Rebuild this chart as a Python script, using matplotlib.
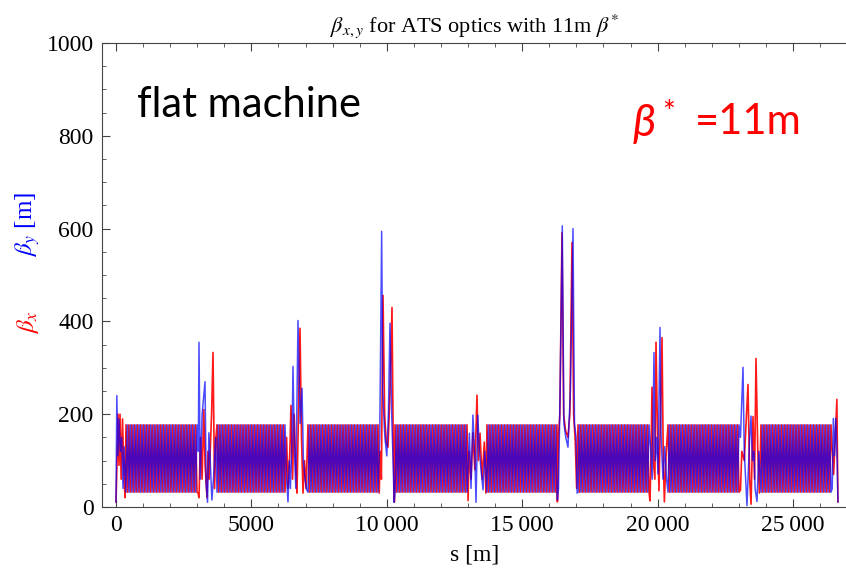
import numpy as np
import matplotlib.pyplot as plt

plt.rcParams['mathtext.fontset'] = 'stix'

# regular arc cells: start / end of each arc [m], beta range [m]
arc_start = [369, 3730, 7090, 10303, 13700, 17061, 20384, 23818]
arc_end = [2991, 6240, 9675, 12962, 16285, 19683, 23006, 26403]
beta_max = 177
beta_min = 32
cell_len = 106.9

# insertion regions: (s, beta) knots
ir_x = [
    [(0, 11), (40, 100), (74, 200), (110, 90), (148, 200), (190, 60), (240, 190), (290, 80), (330, 20)],
    [(3030, 30), (3065, 20), (3120, 150), (3180, 60), (3240, 210), (3290, 90), (3360, 20), (3397, 120),
     (3440, 60), (3530, 200), (3582, 333), (3640, 40), (3690, 150)],
    [(6300, 150), (6350, 40), (6420, 120), (6462, 219), (6520, 60), (6580, 200), (6640, 80), (6684, 30),
     (6795, 385), (6850, 150), (6906, 30), (6960, 100), (7020, 40)],
    [(9720, 30), (9760, 120), (9800, 60), (9860, 456), (9920, 200), (9980, 140), (10044, 129),
     (10120, 250), (10192, 430), (10240, 120), (10280, 11)],
    [(13000, 14), (13040, 120), (13110, 60), (13180, 160), (13250, 80), (13331, 241), (13380, 100),
     (13442, 159), (13520, 60), (13600, 140), (13660, 30)],
    [(16300, 11), (16340, 150), (16390, 200), (16470, 591), (16530, 200), (16600, 165), (16690, 150),
     (16760, 200), (16839, 570), (16900, 200), (16960, 140), (17010, 40)],
    [(19720, 13), (19760, 120), (19793, 258), (19840, 100), (19900, 60), (19941, 355), (20000, 150),
     (20050, 35), (20163, 365), (20210, 100), (20250, 11), (20320, 120)],
    [(23060, 36), (23110, 120), (23200, 100), (23338, 264), (23400, 60), (23450, 6), (23523, 195),
     (23580, 60), (23634, 320), (23700, 120), (23760, 30)],
    [(26450, 120), (26500, 70), (26560, 150), (26620, 232), (26659, 11)],
]
ir_y = [
    [(0, 11), (30, 240), (70, 110), (110, 190), (160, 120), (210, 150), (260, 40), (300, 130)],
    [(3040, 120), (3065, 355), (3110, 60), (3180, 200), (3287, 270), (3330, 50), (3380, 10), (3430, 160),
     (3480, 100), (3540, 15), (3600, 60), (3680, 150)],
    [(6300, 60), (6351, 11), (6400, 100), (6440, 40), (6500, 150), (6536, 303), (6590, 120), (6640, 40),
     (6721, 402), (6800, 180), (6869, 256), (6920, 100), (6980, 60), (7040, 37)],
    [(9740, 150), (9810, 594), (9850, 250), (9880, 208), (9930, 150), (10000, 110), (10060, 200),
     (10118, 396), (10180, 200), (10229, 107), (10270, 10)],
    [(13050, 159), (13110, 40), (13180, 198), (13257, 100), (13294, 10), (13360, 198), (13420, 120),
     (13480, 80), (13552, 37), (13620, 120)],
    [(16300, 15), (16340, 40), (16400, 250), (16480, 606), (16540, 180), (16610, 150), (16690, 129),
     (16780, 250), (16876, 600), (16930, 180), (16990, 150), (17030, 30)],
    [(19740, 129), (19800, 60), (19867, 333), (19910, 100), (19960, 150), (20015, 71), (20089, 387),
     (20130, 150), (20200, 60), (20260, 130), (20330, 60)],
    [(23060, 150), (23154, 301), (23200, 120), (23300, 3), (23400, 150), (23449, 196), (23500, 100),
     (23560, 120), (23600, 40), (23670, 12), (23740, 120)],
    [(26450, 40), (26490, 191), (26530, 110), (26580, 191), (26630, 100), (26659, 11)],
]

x_ticks = [0, 5000, 10000, 15000, 20000, 25000]
x_labels = ['0', '5000', '10\u2009000', '15\u2009000', '20\u2009000', '25\u2009000']
y_ticks = [0, 200, 400, 600, 800, 1000]


def arc(start, end, x_plane):
    n = int(round((end - start) / (cell_len / 2)))
    s = np.linspace(start, end, n + 1)
    hi = np.arange(n + 1) % 2 == 0
    if not x_plane:
        hi = ~hi
    return list(zip(s, np.where(hi, beta_max, beta_min)))


def build(ir, x_plane):
    pts = []
    for i in range(len(ir)):
        pts += ir[i]
        if i < len(arc_start):
            pts += arc(arc_start[i], arc_end[i], x_plane)
    pts = np.array(pts)
    return pts[:, 0], pts[:, 1]


sx, bx = build(ir_x, True)
sy, by = build(ir_y, False)

fig = plt.figure(figsize=(8.46, 5.72), dpi=100)
ax = fig.add_axes([102 / 846, 65 / 572, 746 / 846, 464 / 572])
ax.plot(sx, bx, color='#ff0000', lw=1.2, alpha=0.9)
ax.plot(sy, by, color='#0000ff', lw=1.1, alpha=0.7)

ax.set_xlim(-517, 27031)
ax.set_ylim(0, 1000)
ax.set_xticks(x_ticks)
ax.set_xticklabels(x_labels)
ax.set_yticks(y_ticks)
ax.set_xticks(np.arange(0, 27001, 1000), minor=True)
ax.set_yticks(np.arange(0, 1001, 50), minor=True)
ax.tick_params(which='both', direction='in', top=True, right=False, color='#444444')
ax.tick_params(which='major', length=6, labelsize=17, pad=6)
ax.tick_params(which='minor', length=3)
for lab in ax.get_xticklabels() + ax.get_yticklabels():
    lab.set_family('Liberation Serif')
for sp in ax.spines.values():
    sp.set_color('#444444')
ax.spines['right'].set_visible(False)

ax.set_xlabel('s [m]', family='Liberation Serif', fontsize=17, labelpad=6)
ax.set_title(r'$\beta_{x,y}$ for ATS optics with 11m $\beta^{*}$', family='Liberation Serif',
             fontsize=16, pad=8)

fig.text(0.033, 0.437, r'$\beta_x$', color='#ff0000', rotation=90, fontsize=18,
         ha='center', va='center')
fig.text(0.033, 0.607, r'$\beta_y$ [m]', color='#0000ff', rotation=90, fontsize=18,
         family='Liberation Serif', ha='center', va='center')

fig.text(0.294, 0.816, 'flat machine', family='Lato', fontsize=30, ha='center', va='center')
fig.text(0.762, 0.784, '\u03b2', family=['Lato', 'DejaVu Sans'], style='italic', fontsize=32,
         color='#ff0000', ha='center', va='center')
fig.text(0.790, 0.802, '*', family='Lato', fontsize=22, color='#ff0000', ha='center', va='center')
fig.text(0.885, 0.787, '=11m', family='Lato', fontsize=30, color='#ff0000', ha='center', va='center')

fig.savefig('out.png', dpi=100)
